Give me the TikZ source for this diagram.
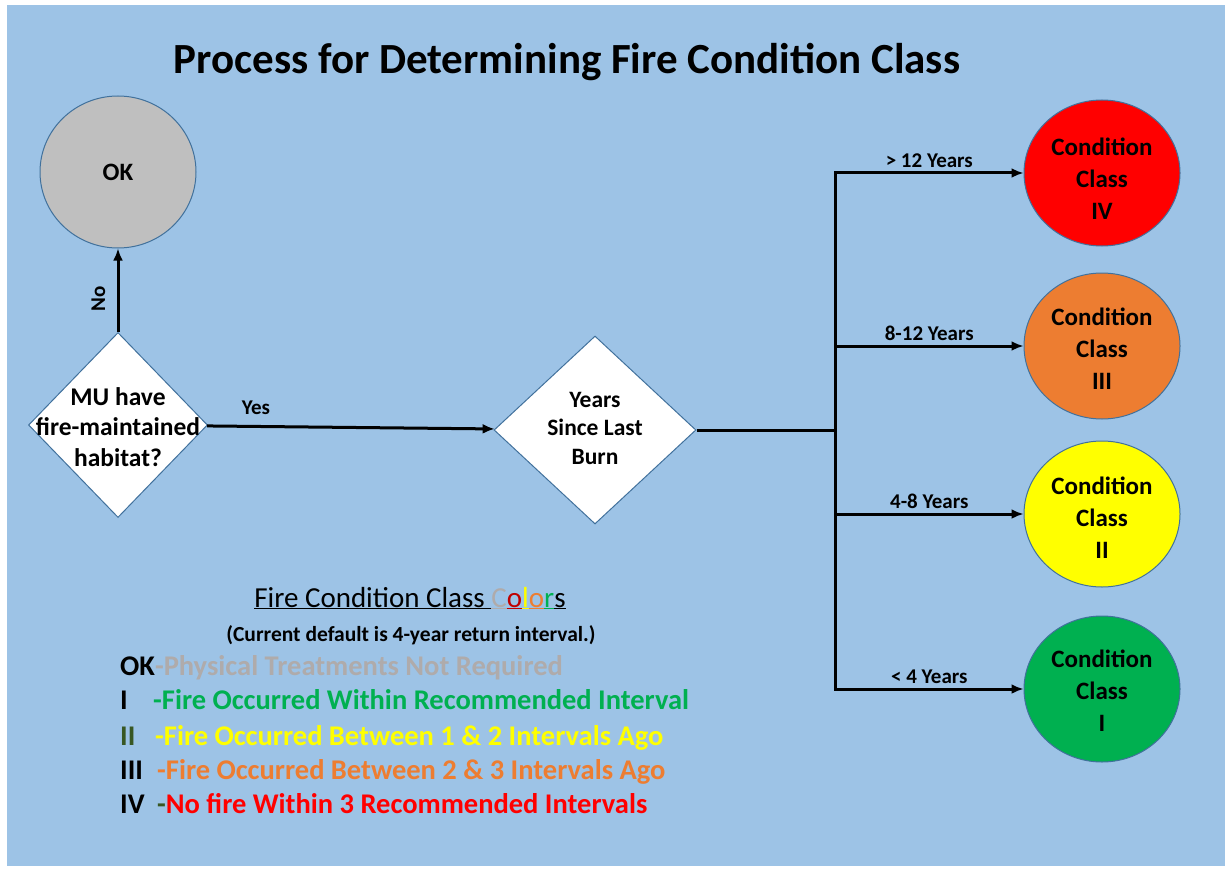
\documentclass[tikz,border=0pt]{standalone}
\usepackage{fontspec}
\setmainfont{Carlito}
\usetikzlibrary{shapes,arrows.meta,positioning}

\definecolor{bgblue}{HTML}{9DC3E6}
\definecolor{edgeblue}{HTML}{41719C}
\definecolor{okgray}{HTML}{BFBFBF}
\definecolor{txtgray}{HTML}{AFABAB}
\definecolor{cc1}{HTML}{00B050}
\definecolor{cc2}{HTML}{FFFF00}
\definecolor{cc3}{HTML}{ED7D31}
\definecolor{cc4}{HTML}{FF0000}
\definecolor{darkred}{HTML}{C00000}
\definecolor{darkgreen}{HTML}{385723}

\newcommand{\fsz}[2]{\fontsize{#1}{#2}\selectfont}

\tikzset{
  decision/.style={diamond, draw=edgeblue, fill=white, line width=1pt, inner sep=0pt},
  cclass/.style={ellipse, draw=edgeblue, line width=1pt, minimum width=156pt,
    minimum height=146pt, inner sep=0pt},
  cctext/.style={align=center, font=\fsz{25}{32}\bfseries},
  link/.style={->, line width=3pt},
  edgelab/.style={font=\fsz{21}{24}\bfseries},
  legtext/.style={anchor=base west, inner sep=0pt, font=\fsz{28.5}{34}\bfseries}
}

\begin{document}
\begin{tikzpicture}[x=1pt, y=-1pt, >={Latex[length=12pt, width=10pt]}]
        \useasboundingbox (0,0) rectangle (1225,869);
        \fill[bgblue] (7,5) rectangle (1225,866);

        \node[anchor=base, font=\fsz{43}{48}\bfseries] (title) at (567,74) {Process for Determining Fire Condition Class};

        % decisions
        \node[cclass, fill=okgray, minimum height=152pt, font=\fsz{25}{28}\bfseries] (ok) at (118,172) {OK};
        \node[decision, minimum width=179pt, minimum height=185pt] (d1) at (118,425) {};
        \node[font=\fsz{25.5}{30.5}\bfseries, align=center] (d1t) at ([yshift=-2pt]d1) {MU have\\fire-maintained\\habitat?};
        \node[decision, minimum width=202pt, minimum height=188pt] (d2) at (595,430) {};
        \node[font=\fsz{23.5}{28.5}\bfseries, align=center] (d2t) at ([yshift=2pt]d2) {Years\\Since Last\\Burn};

        % condition classes
        \node[cclass, fill=cc4] (c4) at (1102,173) {};
        \node[cctext] (c4t) at ([yshift=-6pt]c4) {Condition\\Class\\IV};
        \node[cclass, fill=cc3] (c3) at (1102,346) {};
        \node[cctext] (c3t) at ([yshift=-3pt]c3) {Condition\\Class\\III};
        \node[cclass, fill=cc2] (c2) at (1102,514) {};
        \node[cctext] (c2t) at ([yshift=-4pt]c2) {Condition\\Class\\II};
        \node[cclass, fill=cc1] (c1) at (1102,689) {};
        \node[cctext] (c1t) at ([yshift=-2pt]c1) {Condition\\Class\\I};
        \coordinate (bus) at (835,430);

        \draw[link] (d1) -- node[edgelab, pos=0.4, above=8pt, sloped] {No} (ok);
        \draw[link] (d1) -- node[edgelab, pos=0.17, above=7pt] {Yes} (d2);
        \draw[line width=3pt] (d2) -- (bus);
        \draw[link] (bus) |- node[edgelab, pos=0.75, above=1pt] {> 12 Years} (c4);
        \draw[link] (bus |- c3) -- node[edgelab, midway, above=1pt] {8-12 Years} (c3);
        \draw[link] (bus |- c2) -- node[edgelab, midway, above=1pt] {4-8 Years} (c2);
        \draw[link] (bus) |- node[edgelab, pos=0.75, above=1pt] {< 4 Years} (c1);

        % legend
        \node[anchor=base, font=\fsz{29}{34}] (legtitle) at (410,607) {\underline{Fire Condition Class }{\color{txtgray}\underline{C}}{\color{darkred}\underline{o}}{\color{cc2}\underline{l}}{\color{cc3}\underline{o}}{\color{cc1}\underline{r}}\underline{s}};
        \node[anchor=base, font=\fsz{21.5}{25}\bfseries] (legnote) at (411,641) {(Current default is 4-year return interval.)};
        \node[legtext] (lok) at (120,675) {OK\textcolor{txtgray}{-Physical Treatments Not Required}};
        \node[legtext] (l1) at (120,709) {I};
        \node[legtext, text=cc1] (l1t) at (153,709) {-Fire Occurred Within Recommended Interval};
        \node[legtext, text=darkgreen] (l2) at (120,745) {II};
        \node[legtext, text=cc2] (l2t) at (155,745) {-Fire Occurred Between 1 \& 2 Intervals Ago};
        \node[legtext] (l3) at (120,779) {III};
        \node[legtext, text=cc3] (l3t) at (157,779) {-Fire Occurred Between 2 \& 3 Intervals Ago};
        \node[legtext] (l4) at (120,813) {IV};
        \node[legtext] (l4t) at (157,813) {\textcolor{darkgreen}{-}\textcolor{cc4}{No fire Within 3 Recommended Intervals}};
  \end{tikzpicture}
\end{document}
